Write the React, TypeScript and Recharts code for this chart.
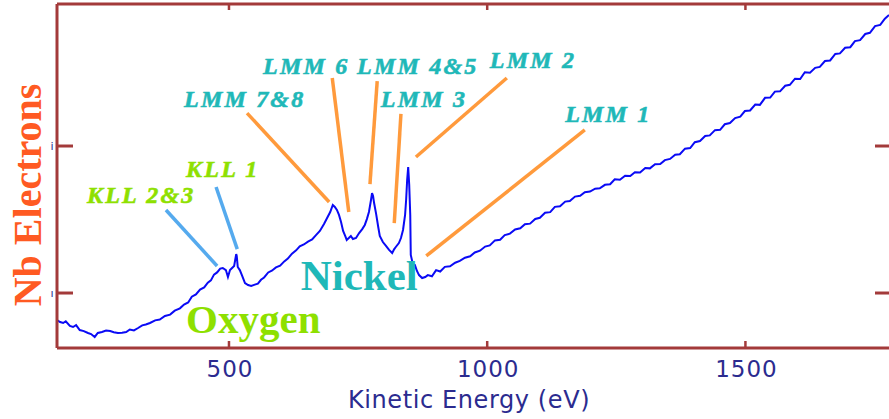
import React from "react";
import { LineChart, Line, XAxis, YAxis, ReferenceLine, ReferenceDot, Label } from "recharts";

// Kinetic energy (eV)
const energies = [167,173,179,184,192,198,204,211,219,227,233,240,246,254,262,270,277,285,293,301,308,316,324,332,339,347,357,366,376,386,395,405,413,421,428,436,444,452,459,465,471,477,483,488,494,498,502,506,510,514,515,517,521,525,531,537,543,550,556,562,568,576,583,591,599,607,614,622,630,637,645,653,661,668,676,684,690,696,701,705,709,713,717,721,725,728,732,736,740,746,752,758,763,767,771,775,777,779,781,785,789,792,798,804,810,816,820,823,829,833,837,841,843,845,847,849,851,852,856,860,864,868,874,880,885,893,901,909,918,928,938,947,957,967,976,986,996,1005,1015,1025,1034,1044,1054,1064,1073,1083,1093,1102,1112,1122,1131,1141,1151,1160,1170,1180,1189,1199,1209,1218,1228,1238,1247,1257,1267,1277,1286,1296,1306,1315,1325,1335,1344,1354,1364,1373,1383,1393,1402,1412,1422,1431,1441,1451,1460,1470,1480,1490,1499,1509,1519,1528,1538,1548,1557,1567,1577,1586,1596,1606,1615,1625,1635,1644,1654,1664,1674,1683,1693,1703,1712,1722,1732,1741,1751,1761,1770,1778];

// Number of electrons (thousands, arbitrary)
const counts = [8.16,8.03,7.96,8.08,7.76,7.69,7.82,7.48,7.41,7.28,7.21,7.01,7.28,7.35,7.45,7.41,7.33,7.28,7.30,7.35,7.52,7.46,7.62,7.80,7.86,7.96,8.14,8.20,8.44,8.53,8.80,8.96,9.22,9.36,9.75,9.90,10.24,10.38,10.70,10.86,11.25,11.40,11.66,11.70,11.56,11.09,11.56,11.70,11.84,12.65,12.52,11.77,11.56,11.22,10.68,10.54,10.48,10.57,10.64,10.90,11.06,11.40,11.52,11.74,11.86,12.15,12.34,12.68,12.90,13.17,13.30,13.50,13.64,13.92,14.22,14.69,15.10,15.51,15.99,15.85,15.65,15.31,14.83,14.22,13.88,13.61,13.74,13.88,13.67,13.74,14.08,14.35,14.63,15.03,15.51,16.33,16.80,16.60,16.12,15.37,14.49,13.88,13.47,13.20,12.93,12.72,12.99,13.13,13.40,13.74,14.29,15.31,16.33,17.69,18.57,17.35,15.31,12.59,11.97,11.90,11.50,11.22,11.02,11.09,11.22,11.14,11.56,11.46,11.78,11.82,12.06,12.18,12.40,12.50,12.76,12.88,13.16,13.24,13.58,13.62,13.94,14.04,14.32,14.40,14.68,14.72,15.04,15.12,15.46,15.50,15.86,15.90,16.22,16.26,16.56,16.62,16.86,16.90,17.10,17.12,17.36,17.40,17.74,17.70,17.98,17.96,18.22,18.20,18.50,18.48,18.76,18.78,19.04,19.12,19.40,19.44,19.82,19.86,20.26,20.34,20.68,20.72,21.08,21.10,21.48,21.56,21.90,22.00,22.38,22.42,22.82,22.80,23.28,23.30,23.70,23.72,24.10,24.16,24.58,24.56,25.02,24.98,25.32,25.38,25.78,25.82,26.26,26.30,26.68,26.72,27.14,27.20,27.62,27.70,28.16,28.24,28.66,28.91];

const xTicks = [500, 1000, 1500];
const yTicks = [10, 20];
const yTickLabels = ["ı", "i"];
const xDomain = [167, 1778];
const yDomain = [6.26, 29.66];

// Annotation leader lines (data coords)
const leaderLines = [
  { name: "LMM 7&8", x1: 535, y1: 22.24, x2: 694, y2: 16.19, kind: "Ni" },
  { name: "LMM 6", x1: 700, y1: 24.63, x2: 732, y2: 15.51, kind: "Ni" },
  { name: "LMM 4&5", x1: 787, y1: 24.42, x2: 773, y2: 17.41, kind: "Ni" },
  { name: "LMM 3", x1: 833, y1: 22.18, x2: 820, y2: 14.76, kind: "Ni" },
  { name: "LMM 2", x1: 1038, y1: 24.63, x2: 862, y2: 19.25, kind: "Ni" },
  { name: "LMM 1", x1: 1189, y1: 21.09, x2: 882, y2: 12.52, kind: "Ni" },
  { name: "KLL 2&3", x1: 378, y1: 15.65, x2: 477, y2: 11.84, kind: "O" },
  { name: "KLL 1", x1: 475, y1: 17.21, x2: 516, y2: 12.99, kind: "O" },
];

// Peak labels (text start, baseline) in data coords
const peakLabels = [
  { text: "LMM 6", x: 566, y: 24.9, kind: "Ni" },
  { text: "LMM 4&5", x: 748, y: 24.9, kind: "Ni" },
  { text: "LMM 7&8", x: 413, y: 22.65, kind: "Ni" },
  { text: "LMM 3", x: 794, y: 22.65, kind: "Ni" },
  { text: "LMM 2", x: 1005, y: 25.31, kind: "Ni" },
  { text: "LMM 1", x: 1151, y: 21.63, kind: "Ni" },
  { text: "KLL 1", x: 417, y: 17.89, kind: "O" },
  { text: "KLL 2&3", x: 225, y: 16.12, kind: "O" },
];

const elementLabels = [
  { text: "Nickel", x: 639, y: 10.2, kind: "Ni" },
  { text: "Oxygen", x: 417, y: 7.28, kind: "O" },
];

const data = energies.map((e, i) => ({ e, c: counts[i] }));

const AXIS = "#a33a3a";
const NAVY = "#2b2b8f";
const TEAL = "#1fb8b8";
const LIME = "#8ee000";
const ORANGE = "#ff9a3c";
const SKY = "#55aaee";
const CURVE = "#0a0af5";

// bottom tick label: y arrives at (axis - 7) because of the inward tick
const bottomTick = (props: any) => {
  const { x, y, payload } = props;
  return (
    <text x={Number(x) + 1} y={Number(y) + 36} textAnchor="middle" fill={NAVY} fontFamily="DejaVu Sans" fontSize={23} letterSpacing={1}>
      {payload.value}
    </text>
  );
};

// left tick label: x arrives at (axis + 16) because of the inward tick
const leftTick = (props: any) => {
  const { x, y, index } = props;
  return (
    <text x={Number(x) - 21} y={Number(y) + 4} textAnchor="middle" fill={NAVY} fontFamily="DejaVu Sans" fontSize={11}>
      {yTickLabels[index]}
    </text>
  );
};

const emptyTick = () => <g />;

export default function App() {
  return (
    <div style={{ position: "absolute", left: 0, top: 0, width: 889, height: 419, background: "#fff" }}>
      <LineChart width={889} height={419} data={data} margin={{ top: 3, right: -1, bottom: 70, left: 56 }}>
        <XAxis
          xAxisId="b"
          dataKey="e"
          type="number"
          domain={xDomain}
          ticks={xTicks}
          orientation="bottom"
          height={1}
          tickSize={-7}
          tickMargin={0}
          tickLine={{ stroke: AXIS, strokeWidth: 2.5 }}
          axisLine={{ stroke: AXIS, strokeWidth: 3 }}
          tick={bottomTick}
          allowDataOverflow
        >
          <Label
            content={(p: any) => {
              const vb = p.viewBox || { y: 348 };
              return (
                <text x={469} y={vb.y + 60} textAnchor="middle" fill={NAVY} fontFamily="DejaVu Sans" fontSize={24} letterSpacing={0.6}>
                  Kinetic Energy (eV)
                </text>
              );
            }}
          />
        </XAxis>
        <XAxis
          xAxisId="t"
          dataKey="e"
          type="number"
          domain={xDomain}
          ticks={xTicks}
          orientation="top"
          height={1}
          tickSize={-6}
          tickMargin={0}
          tickLine={{ stroke: AXIS, strokeWidth: 2.5 }}
          axisLine={{ stroke: AXIS, strokeWidth: 3 }}
          tick={emptyTick}
          allowDataOverflow
        />
        <YAxis
          yAxisId="l"
          type="number"
          domain={yDomain}
          ticks={yTicks}
          width={1}
          tickSize={-16}
          tickMargin={0}
          tickLine={{ stroke: AXIS, strokeWidth: 3 }}
          axisLine={{ stroke: AXIS, strokeWidth: 3 }}
          tick={leftTick}
          allowDataOverflow
        >
          <Label
            content={() => {
              const cy = 195;
              return (
                <text
                  x={41}
                  y={cy}
                  transform={`rotate(-90, 41, ${cy})`}
                  textAnchor="middle"
                  fill="#ff5a22"
                  fontFamily="Liberation Serif"
                  fontWeight="bold"
                  fontSize={40}
                >
                  Nb Electrons
                </text>
              );
            }}
          />
        </YAxis>
        <YAxis
          yAxisId="r"
          orientation="right"
          type="number"
          domain={yDomain}
          ticks={yTicks}
          width={1}
          tickSize={-14}
          tickMargin={0}
          tickLine={{ stroke: AXIS, strokeWidth: 3 }}
          axisLine={false}
          tick={emptyTick}
          allowDataOverflow
        />

        {leaderLines.map((l) => (
          <ReferenceLine
            key={l.name}
            xAxisId="b"
            yAxisId="l"
            segment={[{ x: l.x1, y: l.y1 }, { x: l.x2, y: l.y2 }]}
            stroke={l.kind === "Ni" ? ORANGE : SKY}
            strokeWidth={3.5}
            ifOverflow="visible"
          />
        ))}

        <Line
          xAxisId="b"
          yAxisId="l"
          dataKey="c"
          type="linear"
          stroke={CURVE}
          strokeWidth={2}
          dot={false}
          isAnimationActive={false}
        />

        {peakLabels.map((t) => (
          <ReferenceDot
            key={t.text}
            xAxisId="b"
            yAxisId="l"
            x={t.x}
            y={t.y}
            r={0}
            ifOverflow="visible"
            shape={(p: any) => (
              <text
                x={p.cx}
                y={p.cy}
                fill={t.kind === "Ni" ? TEAL : LIME}
                stroke={t.kind === "Ni" ? TEAL : LIME}
                strokeWidth={0.6}
                fontFamily="Liberation Serif"
                fontWeight="bold"
                fontStyle="italic"
                fontSize={24}
                letterSpacing={2.2}
              >
                {t.text}
              </text>
            )}
          />
        ))}

        {elementLabels.map((t) => (
          <ReferenceDot
            key={t.text}
            xAxisId="b"
            yAxisId="l"
            x={t.x}
            y={t.y}
            r={0}
            ifOverflow="visible"
            shape={(p: any) => (
              <text
                x={p.cx}
                y={p.cy}
                fill={t.kind === "Ni" ? TEAL : LIME}
                fontFamily="Liberation Serif"
                fontWeight="bold"
                fontSize={t.kind === "Ni" ? 43 : 41}
              >
                {t.text}
              </text>
            )}
          />
        ))}
      </LineChart>
    </div>
  );
}
